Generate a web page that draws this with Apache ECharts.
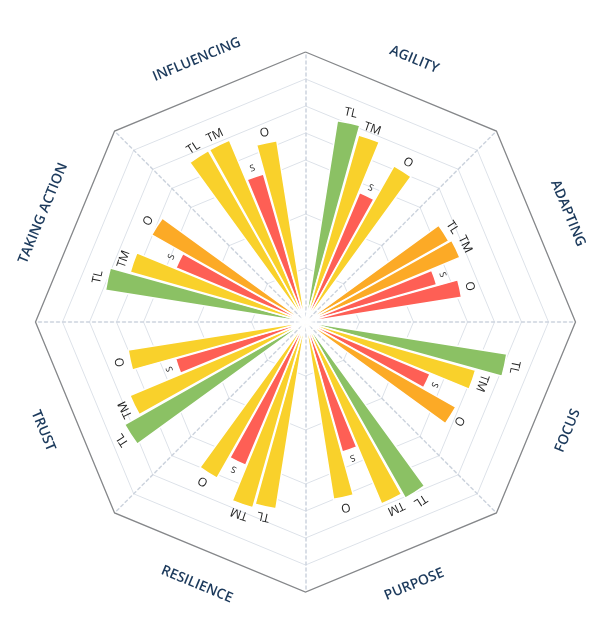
<!DOCTYPE html>
<html>
<head>
<meta charset="utf-8">
<script src="https://cdn.jsdelivr.net/npm/echarts@6/dist/echarts.min.js"></script>
<style>
html, body { margin: 0; padding: 0; background: #fff; }
#main { width: 615px; height: 619px; }
</style>
</head>
<body>
<div id="main"></div>
<script>
// categories, clockwise from the top
var categories = ['AGILITY', 'ADAPTING', 'FOCUS', 'PURPOSE', 'RESILIENCE', 'TRUST', 'TAKING ACTION', 'INFLUENCING'];

// scores per group (0 - 100)
var tlValues = [75.5, 61, 75.5, 75, 70, 77, 75, 73];
var tmValues = [72, 62, 65.5, 73, 71.5, 70.5, 67.5, 73];
var sValues  = [52, 50.5, 50, 50, 57.5, 50, 52, 57];
var oValues  = [66.5, 58.5, 64, 66.5, 66.5, 66.5, 65.5, 68];

// rating band of every bar
var tlLevels = ['green', 'orange', 'green', 'green', 'yellow', 'green', 'green', 'yellow'];
var tmLevels = ['yellow', 'orange', 'yellow', 'yellow', 'yellow', 'yellow', 'yellow', 'yellow'];
var sLevels  = ['red', 'red', 'red', 'red', 'red', 'red', 'red', 'red'];
var oLevels  = ['yellow', 'red', 'orange', 'yellow', 'yellow', 'yellow', 'orange', 'yellow'];

var levelColors = {
    green: '#8bc164',
    yellow: '#f9d12b',
    orange: '#fcaa26',
    red: '#fe5f55'
};

var cx = 305.5, cy = 322, outerR = 270;

function barSeries(name, values, levels, fontSize) {
    return {
        name: name,
        type: 'bar',
        coordinateSystem: 'polar',
        z: 3,
        barGap: '6%',
        barCategoryGap: '40%',
        data: values.map(function (v, i) {
            return {value: v, itemStyle: {color: levelColors[levels[i]]}};
        }),
        itemStyle: {borderColor: '#fff', borderWidth: 1.5},
        label: {
            show: true,
            position: 'end',
            distance: 4,
            formatter: '{a}',
            color: '#222',
            fontSize: fontSize,
            fontFamily: 'Open Sans'
        },
        emphasis: {disabled: true}
    };
}

// ring colours: only some of the 10 steps are drawn
var ringColors = ['transparent', 'transparent', '#dde2e9', 'transparent', '#dde2e9', 'transparent',
    '#dde2e9', '#dde2e9', '#dde2e9', '#dde2e9', 'transparent'];

var indicators = categories.map(function () { return {min: 0, max: 100}; });

// category names sit outside the octagon, turned along it
var nameTexts = categories.map(function (c, i) {
    var deg = (i + 0.5) * 360 / categories.length;
    var rad = deg * Math.PI / 180;
    var r = 284;
    var rot = (deg > 90 && deg < 270) ? deg - 180 : deg;
    return {
        type: 'text',
        x: cx + r * Math.sin(rad),
        y: cy - r * Math.cos(rad),
        rotation: -rot * Math.PI / 180,
        style: {
            text: c,
            fill: '#1c3a5c',
            font: '600 14px "Open Sans"',
            align: 'center',
            verticalAlign: 'middle'
        }
    };
});

var myChart = echarts.init(document.getElementById('main'));
var option = {
    animation: false,
    textStyle: {fontFamily: 'Open Sans'},
    radar: [{
        center: [cx, cy],
        radius: outerR,
        shape: 'polygon',
        splitNumber: 10,
        indicator: indicators,
        axisName: {show: false},
        axisLine: {lineStyle: {color: '#cdd4de', width: 1.5, type: [3, 3]}},
        splitLine: {lineStyle: {color: ringColors, width: 1}},
        splitArea: {show: false},
        z: 1
    }, {
        center: [cx, cy],
        radius: outerR,
        shape: 'polygon',
        splitNumber: 1,
        indicator: indicators,
        axisName: {show: false},
        axisLine: {show: false},
        splitLine: {lineStyle: {color: ['transparent', '#85878a'], width: 1.3}},
        splitArea: {show: false},
        z: 1
    }],
    polar: {center: [cx, cy], radius: outerR},
    angleAxis: {
        type: 'category',
        data: categories,
        startAngle: 90,
        clockwise: true,
        axisLine: {show: false},
        axisTick: {show: false},
        axisLabel: {show: false},
        splitLine: {show: false}
    },
    radiusAxis: {
        min: 0,
        max: 100,
        axisLine: {show: false},
        axisTick: {show: false},
        axisLabel: {show: false},
        splitLine: {show: false}
    },
    graphic: nameTexts,
    series: [
        barSeries('TL', tlValues, tlLevels, 12),
        barSeries('TM', tmValues, tmLevels, 12),
        barSeries('S', sValues, sLevels, 9),
        barSeries('O', oValues, oLevels, 12)
    ]
};
myChart.setOption(option);
</script>
</body>
</html>
